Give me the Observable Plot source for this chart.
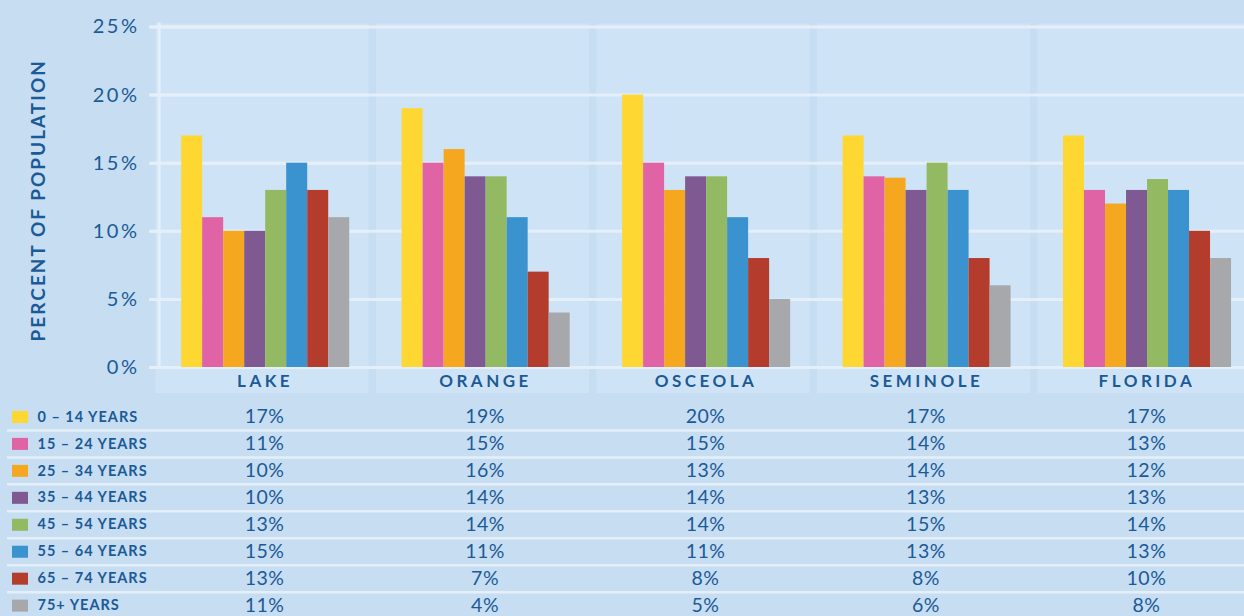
<!DOCTYPE html>
<html>
<head>
<meta charset="utf-8">
<script src="https://cdn.jsdelivr.net/npm/d3@7"></script>
<script src="https://cdn.jsdelivr.net/npm/@observablehq/plot@0.6"></script>
<style>
  html, body { margin: 0; padding: 0; background: #c6ddf2; overflow: hidden; }
  #chart { width: 1251px; }
  #chart svg { display: block; max-width: none !important; }
</style>
</head>
<body>
<div id="chart"></div>
<script>
// ---- data ----
const counties = ["LAKE", "ORANGE", "OSCEOLA", "SEMINOLE", "FLORIDA"];
const ages = ["0 – 14 YEARS", "15 – 24 YEARS", "25 – 34 YEARS", "35 – 44 YEARS",
              "45 – 54 YEARS", "55 – 64 YEARS", "65 – 74 YEARS", "75+ YEARS"];
const lake     = [17, 11, 10, 10, 13, 15, 13, 11];
const orange   = [19, 15, 16, 14, 14, 11, 7, 4];
const osceola  = [20, 15, 13, 14, 14, 11, 8, 5];
const seminole = [17, 14, 13.9, 13, 15, 13, 8, 6];
const florida  = [17, 13, 12, 13, 13.8, 13, 10, 8];
const yTicks = [0, 5, 10, 15, 20, 25];
const colors = ["#ffd733", "#e064a5", "#f5a81f", "#7f5a92", "#93ba62", "#3a92cf", "#b33c2c", "#a7a8ab"];
const yTitle = "PERCENT OF POPULATION";

const seriesByCounty = [lake, orange, osceola, seminole, florida];
const data = [];
counties.forEach((c, ci) => ages.forEach((a, ai) => data.push({county: c, age: a, value: seriesByCounty[ci][ai]})));

const textColor = "#1b5a96";
const panelColor = "#cfe3f6";
const gridColor = "#e4eff9";
const W = 1251;

const chartSvg = Plot.plot({
  width: W, height: 393,
  marginLeft: 155, marginRight: 1, marginTop: 26.5, marginBottom: 26,
  style: {background: "transparent", fontFamily: "Lato, sans-serif", color: textColor, maxWidth: "none"},
  fx: {domain: counties, paddingInner: 0.0331, paddingOuter: 0, round: false, axis: null, label: null},
  x: {type: "band", domain: ages, paddingInner: 0, paddingOuter: 1.074, align: 0.58, round: false, axis: null},
  y: {domain: [0, 25], axis: null},
  color: {domain: ages, range: colors},
  marks: [
    Plot.frame({fill: panelColor, stroke: "none", insetTop: -3.5, insetBottom: -26}),
    Plot.ruleY(yTicks, {stroke: gridColor, strokeWidth: 3, insetLeft: -3.7, insetRight: -3.7}),
    Plot.ruleY(yTicks, {fx: () => "LAKE", stroke: gridColor, strokeWidth: 3, insetLeft: -6}),
    Plot.ruleX([ages[0]], {fx: () => "LAKE", x: d => d, y1: 0, y2: 25.3, dx: -33, stroke: gridColor, strokeWidth: 3}),
    Plot.barY(data, {fx: "county", x: "age", y: "value", fill: "age"}),
    Plot.text(yTicks, {fx: () => "LAKE", y: d => d, text: d => d + "%", frameAnchor: "left",
      textAnchor: "end", dx: -16, fontSize: 20, fill: textColor, ariaDescription: "ytick"}),
    Plot.text([yTitle], {fx: () => "LAKE", text: d => d, frameAnchor: "left", textAnchor: "middle",
      lineAnchor: "middle", rotate: -90, dx: -117, dy: 3, fontSize: 19, fontWeight: 700,
      fill: textColor, ariaDescription: "ytitle"}),
    Plot.text(counties, {fx: d => d, text: d => d, frameAnchor: "bottom", lineAnchor: "middle",
      dy: 14, dx: 3, fontSize: 17, fontWeight: 700, fill: textColor, ariaDescription: "xlabel"})
  ]
});

const tableSvg = Plot.plot({
  width: W, height: 235,
  marginLeft: 155, marginRight: 1, marginTop: 10, marginBottom: 9.4,
  style: {background: "transparent", fontFamily: "Lato, sans-serif", color: textColor, maxWidth: "none"},
  x: {type: "band", domain: counties, paddingInner: 0.0331, paddingOuter: 0, round: false, axis: null},
  y: {type: "band", domain: ages, padding: 0, round: false, axis: null},
  color: {domain: ages, range: colors},
  marks: [
    Plot.ruleY(ages.slice(1), {y: d => d, dy: -13.47, stroke: gridColor, strokeWidth: 2.5,
      insetLeft: -148, insetRight: -1}),
    Plot.ruleY(ages, {y: d => d, stroke: d => d, strokeWidth: 12, insetLeft: -143, insetRight: 1222}),
    Plot.text(ages, {y: d => d, text: d => d, frameAnchor: "left", dx: -118, textAnchor: "start",
      fontSize: 14.5, fontWeight: 700, fill: textColor, ariaDescription: "agelabel"}),
    Plot.text(data, {x: "county", y: "age", text: d => Math.round(d.value) + "%", dx: 2.5,
      fontSize: 19.5, fill: textColor, ariaDescription: "cell"})
  ]
});

const root = document.getElementById("chart");
root.appendChild(chartSvg);
root.appendChild(tableSvg);

const spacing = {ytick: "2.5px", ytitle: "2px", xlabel: "3.5px", agelabel: "1px", cell: "0.5px"};
for (const [k, v] of Object.entries(spacing)) {
  d3.selectAll(`g[aria-description="${k}"] text`).attr("letter-spacing", v);
}
</script>
</body>
</html>
